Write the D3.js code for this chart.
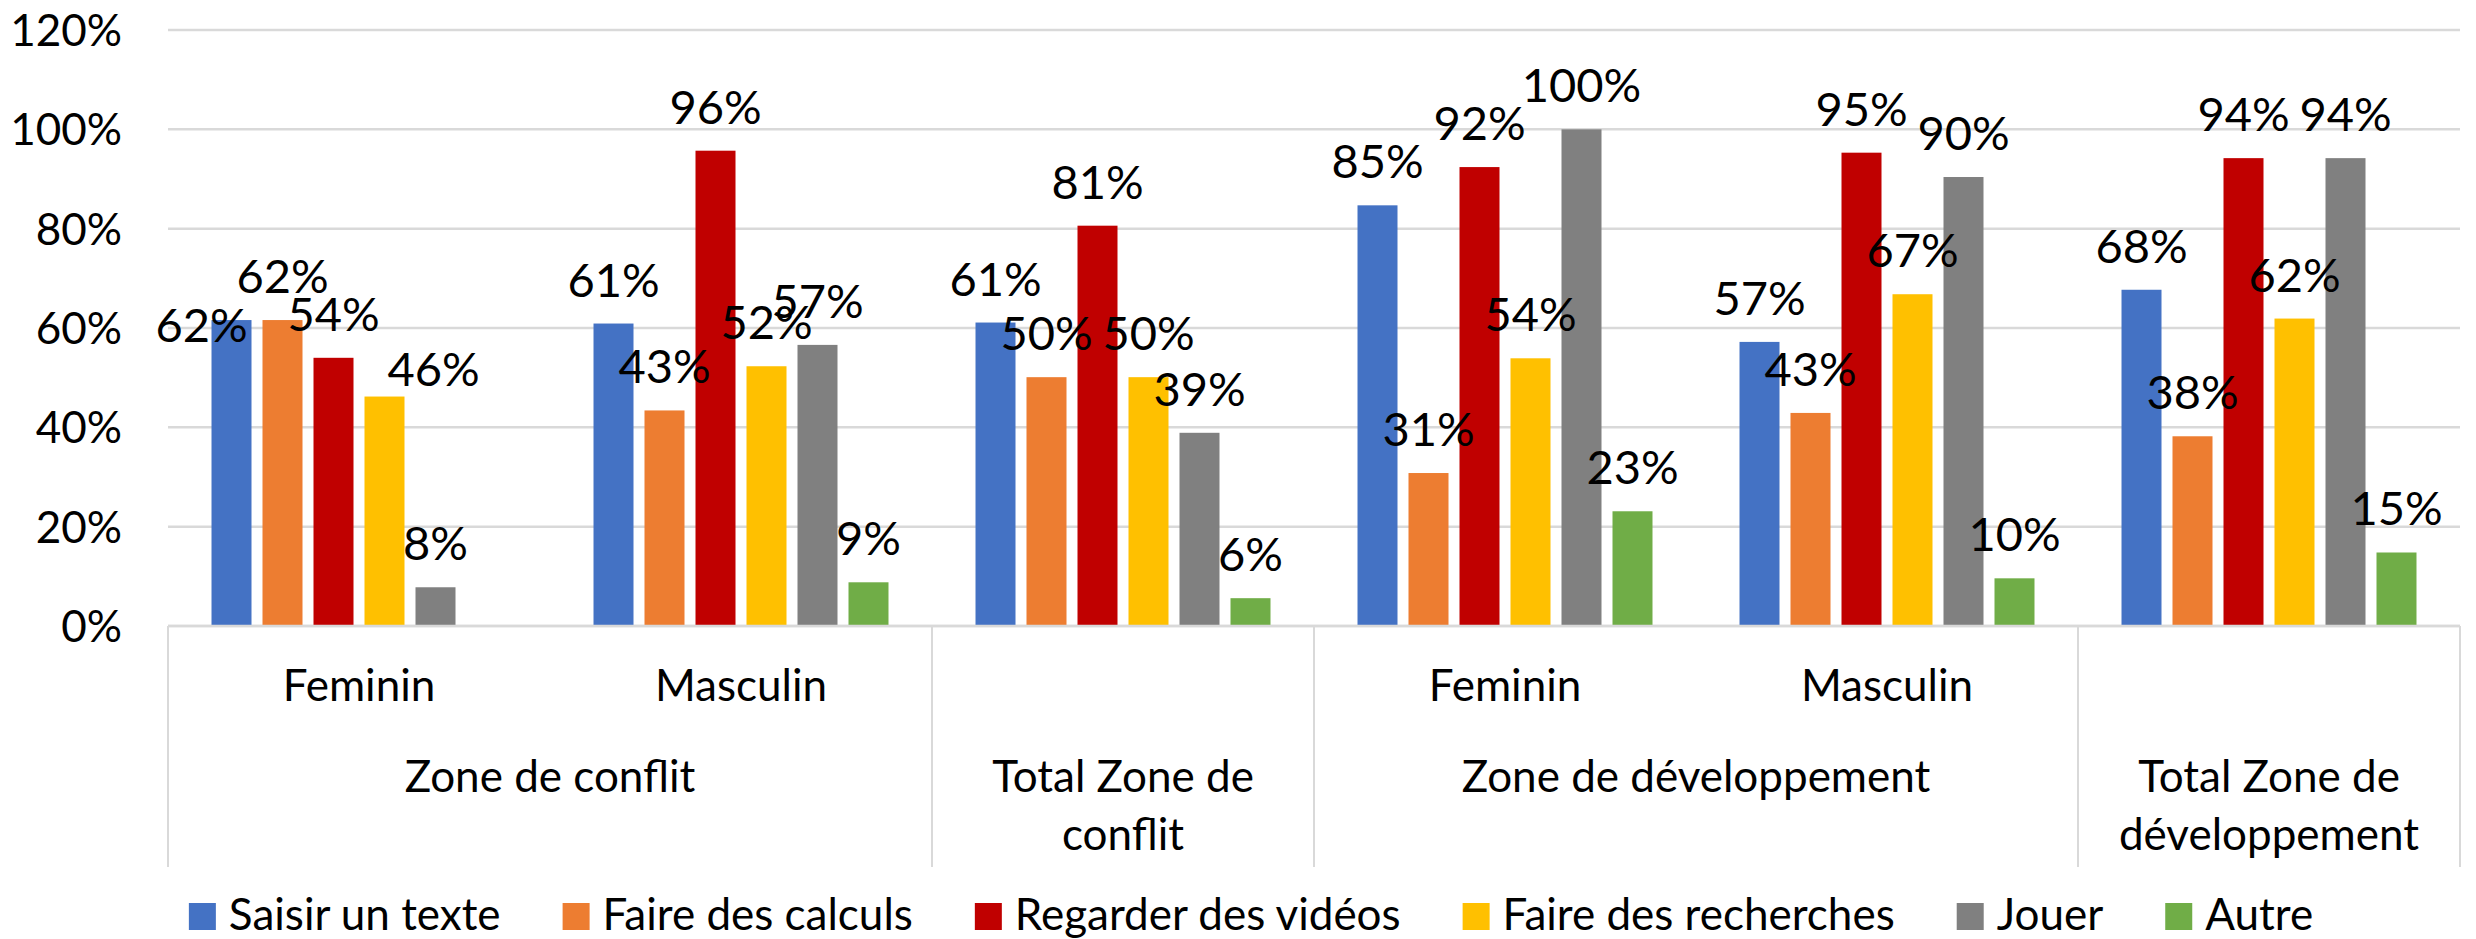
<!DOCTYPE html>
<html>
<head>
<meta charset="utf-8">
<script src="https://cdn.jsdelivr.net/npm/d3@7"></script>
<style>
  body { margin: 0; background: #fff; }
  svg text { font-family: Lato, "Open Sans", sans-serif; fill: #000; }
</style>
</head>
<body>
<svg id="chart" width="2476" height="939"></svg>
<script>
// categories: inner level (gender) and outer level (zone)
const subLabels = ["Feminin", "Masculin", "", "Feminin", "Masculin", ""];
const groupLabels = [
    {name: ["Zone de conflit"], from: 0, to: 1},
    {name: ["Total Zone de", "conflit"], from: 2, to: 2},
    {name: ["Zone de développement"], from: 3, to: 4},
    {name: ["Total Zone de", "développement"], from: 5, to: 5}
];

const seriesNames = ["Saisir un texte", "Faire des calculs", "Regarder des vidéos", "Faire des recherches", "Jouer", "Autre"];
const seriesColors = ["#4472C4", "#ED7D31", "#C00000", "#FFC000", "#808080", "#70AD47"];

// values in % per category
const saisirTexte = [61.6, 60.9, 61.1, 84.7, 57.2, 67.7];
const faireCalculs = [61.6, 43.4, 50.1, 30.8, 42.9, 38.2];
const regarderVideos = [54.0, 95.7, 80.6, 92.4, 95.3, 94.2];
const faireRecherches = [46.2, 52.3, 50.1, 53.9, 66.8, 61.9];
const jouer = [7.8, 56.6, 38.9, 100, 90.4, 94.2];
const autre = [null, 8.8, 5.6, 23.1, 9.6, 14.8];

const yTicks = [0, 20, 40, 60, 80, 100, 120];

// a couple of labels were moved by hand in the original
const labelNudges = [
    {cat: 0, series: 0, dx: -30, dy: 49},
    {cat: 0, series: 3, dx: 49, dy: 16}
];

const allSeries = [saisirTexte, faireCalculs, regarderVideos, faireRecherches, jouer, autre];

const svg = d3.select("#chart");
const plotLeft = 168, plotRight = 2460, plotTop = 30, plotBottom = 626;
const gridColor = "#d9d9d9";

const y = d3.scaleLinear().domain([0, 120]).range([plotBottom, plotTop]);
const x0 = d3.scaleBand().domain(d3.range(subLabels.length)).range([plotLeft, plotRight]).padding(0);
const x1 = d3.scaleBand().domain(d3.range(seriesNames.length))
    .range([0, x0.bandwidth()])
    .paddingInner(0.2157)
    .paddingOuter(0.853);

// gridlines
svg.append("g").selectAll("line")
    .data(yTicks)
    .enter()
    .append("line")
    .attr("x1", plotLeft).attr("x2", plotRight)
    .attr("y1", d => y(d)).attr("y2", d => y(d))
    .attr("stroke", gridColor)
    .attr("stroke-width", 2.5);

// y tick labels
svg.append("g").selectAll("text")
    .data(yTicks)
    .enter()
    .append("text")
    .attr("x", 122)
    .attr("y", d => y(d))
    .attr("dy", "0.36em")
    .attr("text-anchor", "end")
    .attr("font-size", 44)
    .text(d => d + "%");

// bars
const cats = svg.append("g").selectAll("g")
    .data(subLabels.map((s, i) => i))
    .enter()
    .append("g")
    .attr("transform", i => "translate(" + x0(i) + ",0)");

cats.selectAll("rect")
    .data(i => allSeries.map((s, k) => ({cat: i, series: k, value: s[i]})).filter(d => d.value !== null))
    .enter()
    .append("rect")
    .attr("x", d => x1(d.series))
    .attr("width", x1.bandwidth())
    .attr("y", d => y(d.value))
    .attr("height", d => y(0) - y(d.value))
    .attr("fill", d => seriesColors[d.series]);

// data labels
const fmt = d3.format(".0f");
cats.selectAll("text")
    .data(i => allSeries.map((s, k) => ({cat: i, series: k, value: s[i]})).filter(d => d.value !== null))
    .enter()
    .append("text")
    .attr("text-anchor", "middle")
    .attr("font-size", 47)
    .attr("x", d => {
        const n = labelNudges.find(e => e.cat === d.cat && e.series === d.series);
        return x1(d.series) + x1.bandwidth() / 2 + (n ? n.dx : 0);
    })
    .attr("y", d => {
        const n = labelNudges.find(e => e.cat === d.cat && e.series === d.series);
        return y(d.value) - 27 + (n ? n.dy : 0);
    })
    .text(d => fmt(d.value) + "%");

// category axis: base line and separators
svg.append("line")
    .attr("x1", plotLeft).attr("x2", plotRight)
    .attr("y1", plotBottom).attr("y2", plotBottom)
    .attr("stroke", gridColor).attr("stroke-width", 2.5);

const sepIdx = [0].concat(groupLabels.map(g => g.to + 1));
svg.append("g").selectAll("line")
    .data(sepIdx)
    .enter()
    .append("line")
    .attr("x1", i => i < subLabels.length ? x0(i) : plotRight)
    .attr("x2", i => i < subLabels.length ? x0(i) : plotRight)
    .attr("y1", plotBottom)
    .attr("y2", 867)
    .attr("stroke", gridColor)
    .attr("stroke-width", 2);

svg.append("g").selectAll("text")
    .data(subLabels.map((s, i) => ({s: s, i: i})).filter(d => d.s !== ""))
    .enter()
    .append("text")
    .attr("x", d => x0(d.i) + x0.bandwidth() / 2)
    .attr("y", 701)
    .attr("text-anchor", "middle")
    .attr("font-size", 44)
    .text(d => d.s);

const gl = svg.append("g").selectAll("text")
    .data(groupLabels)
    .enter()
    .append("text")
    .attr("text-anchor", "middle")
    .attr("font-size", 44)
    .attr("transform", g => "translate(" + ((x0(g.from) + x0(g.to) + x0.bandwidth()) / 2) + ",792)");
gl.selectAll("tspan")
    .data(g => g.name)
    .enter()
    .append("tspan")
    .attr("x", 0)
    .attr("y", (d, i) => i * 58)
    .text(d => d);

// legend
const legend = svg.append("g");
const items = legend.selectAll("g")
    .data(seriesNames)
    .enter()
    .append("g");
items.append("rect")
    .attr("width", 27).attr("height", 27)
    .attr("y", 903)
    .attr("fill", (d, i) => seriesColors[i]);
items.append("text")
    .attr("x", 40)
    .attr("y", 930)
    .attr("font-size", 44)
    .text(d => d);

let cursor = 0;
const offsets = [];
items.each(function () {
    offsets.push(cursor);
    const w = d3.select(this).select("text").node().getComputedTextLength();
    cursor += 40 + w + 62;
});
const legendWidth = cursor - 62;
const legendStart = 1251 - legendWidth / 2;
items.attr("transform", (d, i) => "translate(" + (legendStart + offsets[i]) + ",0)");
</script>
</body>
</html>
